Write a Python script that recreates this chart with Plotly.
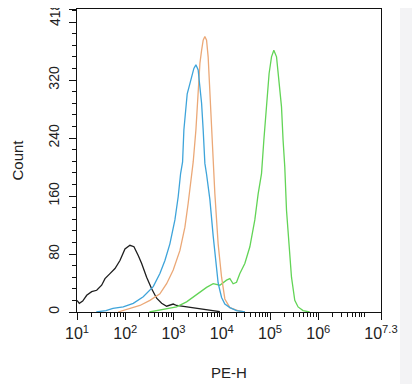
import plotly.graph_objects as go

# log10(PE-H) positions and counts
black_x = [1.0, 1.048, 1.118, 1.201, 1.304, 1.408, 1.511, 1.580, 1.683, 1.787, 1.890, 1.994,
           2.097, 2.180, 2.269, 2.340, 2.443, 2.547, 2.650, 2.754, 2.857, 2.994, 3.064, 3.271,
           3.478, 3.685, 3.822, 3.96]
black_y = [16, 12, 15, 23, 28, 30, 37, 46, 53, 60, 71, 87,
           92, 90, 78, 67, 48, 32, 19, 12, 8, 11, 9, 7,
           5, 3, 2, 0.5]

blue_x = [1.4, 1.6, 1.745, 1.959, 2.166, 2.373, 2.580, 2.718, 2.822, 2.925, 3.029, 3.097,
          3.147, 3.188, 3.215, 3.257, 3.284, 3.340, 3.375, 3.422, 3.464, 3.511, 3.532, 3.582,
          3.615, 3.650, 3.685, 3.754, 3.822, 3.892, 3.925, 3.960, 3.996, 4.064, 4.168, 4.306, 4.48]
blue_y = [0, 2, 5, 7, 12, 21, 35, 53, 71, 94, 127, 159,
          191, 207, 251, 283, 301, 315, 324, 336, 341, 334, 320, 288,
          251, 205, 190, 155, 105, 64, 40, 30, 20, 11, 6, 2, 0]

orange_x = [1.85, 2.097, 2.304, 2.511, 2.718, 2.857, 2.994, 3.133, 3.236, 3.304, 3.375, 3.408,
            3.464, 3.511, 3.547, 3.582, 3.615, 3.650, 3.685, 3.718, 3.754, 3.789, 3.822, 3.857,
            3.925, 3.996, 4.064, 4.168, 4.333, 4.48]
orange_y = [0, 5, 9, 16, 25, 39, 58, 85, 117, 150, 186, 207,
            251, 297, 343, 361, 375, 380, 375, 352, 297, 251, 205, 163,
            94, 48, 18, 6, 2, 0]

green_x = [2.5, 2.650, 3.064, 3.271, 3.408, 3.547, 3.685, 3.822, 3.960, 4.099, 4.168, 4.236,
           4.306, 4.375, 4.478, 4.582, 4.685, 4.754, 4.824, 4.872, 4.928, 4.981, 5.031, 5.079,
           5.135, 5.188, 5.238, 5.271, 5.306, 5.342, 5.395, 5.445, 5.513, 5.582, 5.685, 5.82]
green_y = [0, 2, 7, 14, 21, 28, 34, 39, 37, 44, 46, 39,
           41, 53, 67, 90, 127, 163, 191, 237, 283, 329, 352, 361,
           352, 320, 283, 237, 200, 140, 94, 48, 16, 7, 2, 0]

x_tick_exps = [1, 2, 3, 4, 5, 6, 7.3]
y_tick_vals = [0, 80, 160, 240, 320, 400, 418]
y_tick_text = ["0", "80", "160", "240", "320", "", ""]
y_top_label = "418"

series = [
    (black_x, black_y, "#1e1e1e"),
    (green_x, green_y, "#62d456"),
    (orange_x, orange_y, "#eba877"),
    (blue_x, blue_y, "#3ea4da"),
]

fig = go.Figure()
for xs, ys, col in series:
    fig.add_trace(go.Scatter(x=[10 ** v for v in xs], y=ys, mode="lines",
                             line=dict(color=col, width=1.3), showlegend=False,
                             hoverinfo="skip"))

minor_x = [m * 10 ** d for d in range(1, 8) for m in range(2, 10) if m * 10 ** d < 10 ** 7.3]

FONT = "Liberation Sans, Arial"
fig.update_xaxes(
    type="log", range=[1, 7.3], automargin=False,
    tickvals=[10 ** e for e in x_tick_exps],
    ticktext=["10<sup>%s</sup>" % (str(e) if isinstance(e, float) else e) for e in x_tick_exps],
    ticks="outside", ticklen=7, tickwidth=1.2, tickcolor="#111",
    ticklabeloverflow="allow",
    minor=dict(tickvals=minor_x, ticks="outside", ticklen=3.5, tickcolor="#111", showgrid=False),
    showline=True, linecolor="#111", linewidth=1.3, mirror=True,
    showgrid=False, zeroline=False,
    tickfont=dict(family=FONT, size=16, color="#222"),
    title=dict(text="PE-H", font=dict(family=FONT, size=15, color="#222"), standoff=26),
)
fig.update_yaxes(
    range=[0, 418], automargin=False,
    tickvals=y_tick_vals, ticktext=y_tick_text, tickangle=-90,
    ticks="outside", ticklen=7, tickwidth=1.2, tickcolor="#111",
    ticklabeloverflow="allow", ticklabelstandoff=4,
    minor=dict(dtick=16, tick0=0, ticks="outside", ticklen=3.5, tickcolor="#111", showgrid=False),
    showline=True, linecolor="#111", linewidth=1.3, mirror=True,
    showgrid=False, zeroline=False,
    tickfont=dict(family=FONT, size=14, color="#222"),
    title=dict(text="Count", font=dict(family=FONT, size=15, color="#222"), standoff=19),
)

# page body has an 8px margin: figure is sized/offset so the plot lands where the reference has it
fig.update_layout(
    width=412, height=376,
    margin=dict(l=69, r=39, t=1, b=72),
    paper_bgcolor="white", plot_bgcolor="white",
    shapes=[dict(type="rect", xref="paper", yref="paper",
                 x0=(392 - 69) / 304, x1=(412 - 69) / 304, y0=-72 / 303, y1=1 + 1 / 303,
                 fillcolor="#f3f3f5", line=dict(width=0), layer="below")],
    annotations=[dict(text=y_top_label, textangle=-90, xref="paper", yref="paper",
                      x=(47 - 69) / 304, y=1 - 5 / 303, xanchor="center", yanchor="middle",
                      showarrow=False, font=dict(family=FONT, size=14, color="#222"))],
)

fig.write_html("out.html")
